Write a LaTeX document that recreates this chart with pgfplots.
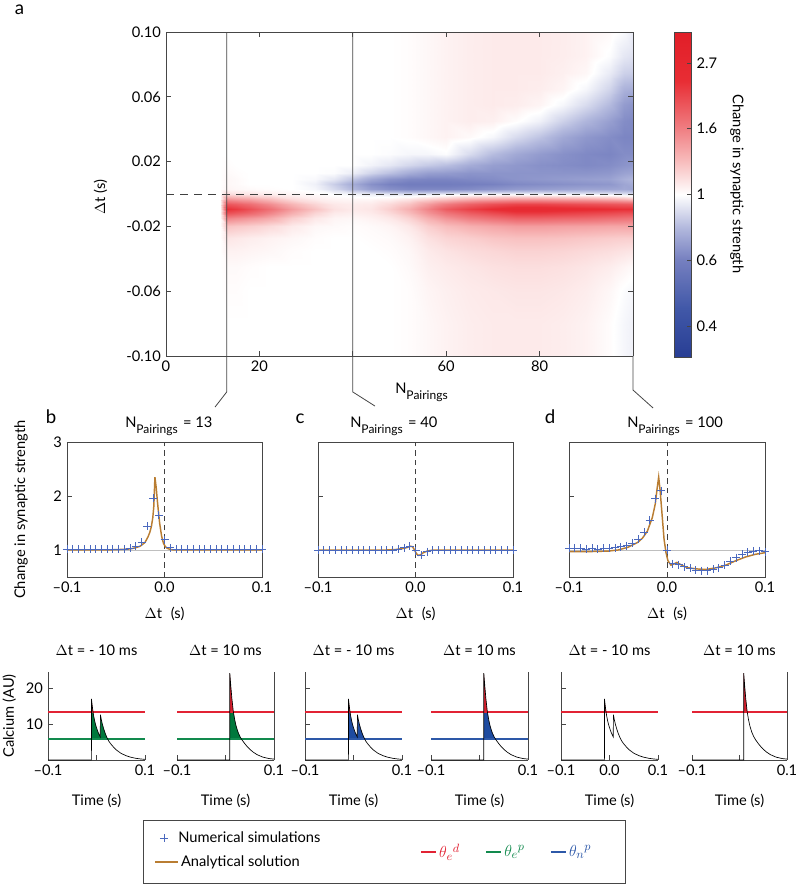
\documentclass[border=0pt]{standalone}
\usepackage{pgfplots}
\pgfplotsset{compat=1.18}
\usepackage{pgfplotstable}
\usepackage{fontspec}
\setmainfont{Lato}
\def\PX{0.75pt}
\definecolor{cred}{RGB}{226,35,52}
\definecolor{cgreen}{RGB}{18,138,78}
\definecolor{cblue}{RGB}{45,88,168}
\definecolor{fred}{RGB}{215,30,45}
\definecolor{fgreen}{RGB}{0,120,60}
\definecolor{fblue}{RGB}{30,75,160}
\definecolor{cbrown}{RGB}{185,125,50}
\definecolor{cplus}{RGB}{75,105,190}
\definecolor{axgray}{RGB}{70,70,70}

\pgfplotsset{
  every axis/.append style={axis line style={axgray,line width=0.5pt}, tick style={axgray,line width=0.5pt}, major tick length=3.5pt, tick align=inside},
  stdp/.style={anchor=south west, width=195*\PX, height=135*\PX, scale only axis,
    xmin=-0.1, xmax=0.1, ymin=0.5, ymax=3, xtick={-0.1,0,0.1}, xticklabels={–0.1,0.0,0.1},
    ytick={1,2,3}, xtick pos=bottom, ytick pos=left,
    xlabel={$\Delta$t\hspace{0.6em}(s)}, xlabel style={at={(axis description cs:0.5,-0.304)}, anchor=base}},
  caax/.style={anchor=south west, width=97*\PX, height=88*\PX, scale only axis,
    every non boxed x axis/.append style={x axis line style={-}, xtick align=inside},
    every non boxed y axis/.append style={y axis line style={-}, ytick align=inside},
    xmin=-0.1, xmax=0.1, ymin=0, ymax=24.5, axis x line=bottom,
    xtick={-0.1,0,0.1}, xticklabels={–0.1,,0.1}, xlabel={Time (s)},
    xlabel style={at={(axis description cs:0.5,-0.52)}, anchor=base},
    clip=false},
  caleft/.style={axis y line=left, ytick={10,20}, yticklabels={,},
    x axis line style={-}, y axis line style={-}, tick align=inside},
  caright/.style={axis y line=right, ytick=\empty,
    x axis line style={-}, y axis line style={-}, tick align=inside},
}

\pgfplotstableread{
t c
-0.1 0
-0.0105 0
-0.0104 17
-0.008 14.2
-0.006 12.4
-0.004 11.0
-0.002 9.9
0 9.0
0.002 8.2
0.004 7.5
0.006 6.9
0.0078 6.4
0.008 12.6
0.010 11.2
0.012 10.0
0.015 8.6
0.018 7.4
0.022 6.1
0.026 5.1
0.030 4.4
0.035 3.6
0.040 2.9
0.045 2.4
0.050 1.9
0.060 1.25
0.070 0.8
0.080 0.5
0.090 0.3
0.100 0.18
}\traceA

\pgfplotstableread{
t c
-0.1 0
0.0088 0
0.0089 24.2
0.011 20.5
0.013 17.3
0.016 13.6
0.019 11.2
0.022 9.4
0.026 7.7
0.030 6.5
0.034 5.6
0.040 4.5
0.045 3.7
0.050 3.0
0.057 2.2
0.065 1.5
0.077 0.8
0.090 0.4
0.100 0.25
}\traceB

\begin{document}
\fontsize{11}{13}\selectfont
\begin{tikzpicture}
\useasboundingbox (0,0) rectangle (797*\PX,-885*\PX);

%================ heat map ================
\begin{axis}[
  at={(166*\PX,-356*\PX)}, anchor=south west,
  width=467*\PX, height=324*\PX, scale only axis,
  view={0}{90},
  xmin=0, xmax=100, ymin=-0.1, ymax=0.1,
  xtick={0,20,40,60,80}, xticklabels={0,20,,60,80},
  ytick={-0.1,-0.06,-0.02,0.02,0.06,0.1},
  yticklabels={-0.10,-0.06,-0.02,0.02,0.06,0.10},
  tick pos=both,
  ylabel={$\Delta$t (s)},
  ylabel style={at={(axis description cs:-0.14,0.49)}, anchor=center},
  clip=false,
  colormap={bwr}{rgb255(0cm)=(40,62,148) rgb255(1.5cm)=(65,88,168) rgb255(3cm)=(118,128,192) rgb255(4cm)=(180,186,222) rgb255(5cm)=(255,255,255) rgb255(6cm)=(248,190,190) rgb255(7cm)=(240,128,132) rgb255(8.5cm)=(232,45,52) rgb255(10cm)=(225,30,40)},
  point meta min=-1.21, point meta max=1.21,
  colorbar,
  colorbar style={at={(parent axis.north east)}, anchor=north west, xshift=30*\PX,
    width=17*\PX, height=325*\PX, scale only axis,
    ytick={-0.98,-0.49,0,0.49,0.98}, yticklabels={0.4,0.6,1,1.6,2.7},
    ytick pos=right, yticklabel pos=right, tick align=inside, major tick length=3pt},
]
\addplot3[surf, shader=interp, mesh/ordering=y varies, mesh/rows=26, mesh/cols=24,
  point meta={ln(\thisrow{v})}] table[x=x, y=y, z expr=0] {
x y v
0 -0.1 1
0 -0.08 1
0 -0.06 1
0 -0.045 1
0 -0.035 1
0 -0.027 1
0 -0.02 1
0 -0.015 1
0 -0.012 1
0 -0.009 1
0 -0.006 1
0 -0.003 1
0 0 1
0 0.003 1
0 0.006 1
0 0.009 1
0 0.013 1
0 0.018 1
0 0.025 1
0 0.035 1
0 0.045 1
0 0.055 1
0 0.065 1
0 0.075 1
0 0.085 1
0 0.1 1
11.5 -0.1 1
11.5 -0.08 1
11.5 -0.06 1
11.5 -0.045 1
11.5 -0.035 1
11.5 -0.027 1
11.5 -0.02 1
11.5 -0.015 1
11.5 -0.012 1
11.5 -0.009 1
11.5 -0.006 1
11.5 -0.003 1
11.5 0 1
11.5 0.003 1
11.5 0.006 1
11.5 0.009 1
11.5 0.013 1
11.5 0.018 1
11.5 0.025 1
11.5 0.035 1
11.5 0.045 1
11.5 0.055 1
11.5 0.065 1
11.5 0.075 1
11.5 0.085 1
11.5 0.1 1
13 -0.1 1
13 -0.08 1
13 -0.06 1.01
13 -0.045 1.02
13 -0.035 1.05
13 -0.027 1.1
13 -0.02 1.25
13 -0.015 1.6
13 -0.012 2.0
13 -0.009 2.3
13 -0.006 1.95
13 -0.003 1.5
13 0 1.15
13 0.003 1.04
13 0.006 1.03
13 0.009 1.03
13 0.013 1.02
13 0.018 1.01
13 0.025 1
13 0.035 1
13 0.045 1
13 0.055 1
13 0.065 1
13 0.075 1
13 0.085 1
13 0.1 1
15 -0.1 1
15 -0.08 1
15 -0.06 1.01
15 -0.045 1.02
15 -0.035 1.05
15 -0.027 1.09
15 -0.02 1.23
15 -0.015 1.55
15 -0.012 1.92
15 -0.009 2.2
15 -0.006 1.88
15 -0.003 1.45
15 0 1.12
15 0.003 1.03
15 0.006 1.02
15 0.009 1.02
15 0.013 1.01
15 0.018 1
15 0.025 1
15 0.035 1
15 0.045 1
15 0.055 1
15 0.065 1
15 0.075 1
15 0.085 1
15 0.1 1
18 -0.1 1
18 -0.08 1
18 -0.06 1
18 -0.045 1.01
18 -0.035 1.04
18 -0.027 1.07
18 -0.02 1.2
18 -0.015 1.48
18 -0.012 1.8
18 -0.009 2.0
18 -0.006 1.75
18 -0.003 1.4
18 0 1.1
18 0.003 1.02
18 0.006 1
18 0.009 1
18 0.013 1
18 0.018 1
18 0.025 1
18 0.035 1
18 0.045 1
18 0.055 1
18 0.065 1
18 0.075 1
18 0.085 1
18 0.1 1
22 -0.1 1
22 -0.08 1
22 -0.06 1
22 -0.045 1
22 -0.035 1.03
22 -0.027 1.05
22 -0.02 1.15
22 -0.015 1.38
22 -0.012 1.6
22 -0.009 1.75
22 -0.006 1.55
22 -0.003 1.28
22 0 1.07
22 0.003 1.01
22 0.006 1
22 0.009 1
22 0.013 1
22 0.018 1
22 0.025 1
22 0.035 1
22 0.045 1
22 0.055 1
22 0.065 1
22 0.075 1
22 0.085 1
22 0.1 1
27 -0.1 1
27 -0.08 1
27 -0.06 1
27 -0.045 1
27 -0.035 1.01
27 -0.027 1.03
27 -0.02 1.08
27 -0.015 1.2
27 -0.012 1.35
27 -0.009 1.45
27 -0.006 1.32
27 -0.003 1.14
27 0 1.04
27 0.003 1
27 0.006 1
27 0.009 1
27 0.013 1
27 0.018 1
27 0.025 1
27 0.035 1
27 0.045 1
27 0.055 1
27 0.065 1
27 0.075 1
27 0.085 1
27 0.1 1
32 -0.1 1
32 -0.08 1
32 -0.06 1
32 -0.045 1
32 -0.035 1
32 -0.027 1.01
32 -0.02 1.03
32 -0.015 1.09
32 -0.012 1.17
32 -0.009 1.25
32 -0.006 1.17
32 -0.003 1.07
32 0 1.02
32 0.003 0.97
32 0.006 0.95
32 0.009 0.98
32 0.013 1
32 0.018 1
32 0.025 1
32 0.035 1
32 0.045 1
32 0.055 1
32 0.065 1
32 0.075 1
32 0.085 1
32 0.1 1
36 -0.1 1
36 -0.08 1
36 -0.06 1
36 -0.045 1
36 -0.035 1
36 -0.027 1
36 -0.02 1.02
36 -0.015 1.04
36 -0.012 1.08
36 -0.009 1.12
36 -0.006 1.09
36 -0.003 1.04
36 0 0.99
36 0.003 0.88
36 0.006 0.84
36 0.009 0.92
36 0.013 0.99
36 0.018 1
36 0.025 1
36 0.035 1
36 0.045 1
36 0.055 1
36 0.065 1
36 0.075 1
36 0.085 1
36 0.1 1
40 -0.1 1
40 -0.08 1
40 -0.06 1
40 -0.045 1
40 -0.035 1
40 -0.027 1
40 -0.02 1.01
40 -0.015 1.03
40 -0.012 1.06
40 -0.009 1.08
40 -0.006 1.07
40 -0.003 1.03
40 0 0.96
40 0.003 0.78
40 0.006 0.74
40 0.009 0.82
40 0.013 0.94
40 0.018 1
40 0.025 1
40 0.035 1
40 0.045 1
40 0.055 1
40 0.065 1
40 0.075 1
40 0.085 1
40 0.1 1
44 -0.1 1
44 -0.08 1
44 -0.06 1
44 -0.045 1
44 -0.035 1
44 -0.027 1.01
44 -0.02 1.02
44 -0.015 1.05
44 -0.012 1.08
44 -0.009 1.1
44 -0.006 1.08
44 -0.003 1.03
44 0 0.94
44 0.003 0.7
44 0.006 0.66
44 0.009 0.73
44 0.013 0.86
44 0.018 0.96
44 0.025 1
44 0.035 1
44 0.045 1
44 0.055 1
44 0.065 1
44 0.075 1
44 0.085 1
44 0.1 1
48 -0.1 1
48 -0.08 1
48 -0.06 1
48 -0.045 1
48 -0.035 1.01
48 -0.027 1.02
48 -0.02 1.04
48 -0.015 1.09
48 -0.012 1.15
48 -0.009 1.2
48 -0.006 1.15
48 -0.003 1.05
48 0 0.92
48 0.003 0.66
48 0.006 0.62
48 0.009 0.67
48 0.013 0.8
48 0.018 0.92
48 0.025 0.99
48 0.035 1
48 0.045 1
48 0.055 1
48 0.065 1
48 0.075 1
48 0.085 1
48 0.1 1
52 -0.1 1.01
52 -0.08 1.01
52 -0.06 1.01
52 -0.045 1.02
52 -0.035 1.03
52 -0.027 1.05
52 -0.02 1.09
52 -0.015 1.18
52 -0.012 1.28
52 -0.009 1.35
52 -0.006 1.25
52 -0.003 1.1
52 0 0.9
52 0.003 0.64
52 0.006 0.6
52 0.009 0.64
52 0.013 0.74
52 0.018 0.87
52 0.025 0.97
52 0.035 1.01
52 0.045 1.01
52 0.055 1.01
52 0.065 1.01
52 0.075 1.01
52 0.085 1.01
52 0.1 1.01
56 -0.1 1.03
56 -0.08 1.03
56 -0.06 1.04
56 -0.045 1.06
56 -0.035 1.08
56 -0.027 1.12
56 -0.02 1.2
56 -0.015 1.35
56 -0.012 1.5
56 -0.009 1.6
56 -0.006 1.45
56 -0.003 1.18
56 0 0.92
56 0.003 0.64
56 0.006 0.6
56 0.009 0.63
56 0.013 0.7
56 0.018 0.83
56 0.025 0.97
56 0.035 1.03
56 0.045 1.03
56 0.055 1.03
56 0.065 1.03
56 0.075 1.03
56 0.085 1.03
56 0.1 1.03
60 -0.1 1.05
60 -0.08 1.05
60 -0.06 1.06
60 -0.045 1.08
60 -0.035 1.11
60 -0.027 1.17
60 -0.02 1.28
60 -0.015 1.5
60 -0.012 1.7
60 -0.009 1.9
60 -0.006 1.65
60 -0.003 1.25
60 0 0.94
60 0.003 0.64
60 0.006 0.6
60 0.009 0.63
60 0.013 0.69
60 0.018 0.8
60 0.025 0.99
60 0.035 1.05
60 0.045 1.05
60 0.055 1.05
60 0.065 1.05
60 0.075 1.05
60 0.085 1.05
60 0.1 1.05
65 -0.1 1.07
65 -0.08 1.07
65 -0.06 1.08
65 -0.045 1.1
65 -0.035 1.14
65 -0.027 1.2
65 -0.02 1.35
65 -0.015 1.65
65 -0.012 1.9
65 -0.009 2.15
65 -0.006 1.85
65 -0.003 1.35
65 0 0.96
65 0.003 0.65
65 0.006 0.61
65 0.009 0.64
65 0.013 0.67
65 0.018 0.74
65 0.025 0.88
65 0.035 1.02
65 0.045 1.07
65 0.055 1.07
65 0.065 1.07
65 0.075 1.07
65 0.085 1.07
65 0.1 1.07
70 -0.1 1.08
70 -0.08 1.08
70 -0.06 1.09
70 -0.045 1.12
70 -0.035 1.16
70 -0.027 1.24
70 -0.02 1.4
70 -0.015 1.75
70 -0.012 2.05
70 -0.009 2.35
70 -0.006 2.0
70 -0.003 1.4
70 0 0.97
70 0.003 0.67
70 0.006 0.62
70 0.009 0.65
70 0.013 0.67
70 0.018 0.7
70 0.025 0.79
70 0.035 0.97
70 0.045 1.06
70 0.055 1.08
70 0.065 1.08
70 0.075 1.08
70 0.085 1.08
70 0.1 1.08
75 -0.1 1.08
75 -0.08 1.08
75 -0.06 1.1
75 -0.045 1.13
75 -0.035 1.18
75 -0.027 1.26
75 -0.02 1.45
75 -0.015 1.85
75 -0.012 2.2
75 -0.009 2.5
75 -0.006 2.1
75 -0.003 1.45
75 0 0.97
75 0.003 0.69
75 0.006 0.64
75 0.009 0.67
75 0.013 0.67
75 0.018 0.68
75 0.025 0.73
75 0.035 0.88
75 0.045 1.01
75 0.055 1.07
75 0.065 1.08
75 0.075 1.08
75 0.085 1.08
75 0.1 1.08
80 -0.1 1.08
80 -0.08 1.08
80 -0.06 1.1
80 -0.045 1.13
80 -0.035 1.18
80 -0.027 1.26
80 -0.02 1.45
80 -0.015 1.85
80 -0.012 2.2
80 -0.009 2.5
80 -0.006 2.1
80 -0.003 1.45
80 0 0.96
80 0.003 0.7
80 0.006 0.65
80 0.009 0.68
80 0.013 0.67
80 0.018 0.66
80 0.025 0.69
80 0.035 0.81
80 0.045 0.95
80 0.055 1.04
80 0.065 1.07
80 0.075 1.08
80 0.085 1.08
80 0.1 1.08
85 -0.1 1.07
85 -0.08 1.07
85 -0.06 1.09
85 -0.045 1.12
85 -0.035 1.17
85 -0.027 1.25
85 -0.02 1.43
85 -0.015 1.82
85 -0.012 2.15
85 -0.009 2.45
85 -0.006 2.05
85 -0.003 1.42
85 0 0.95
85 0.003 0.71
85 0.006 0.66
85 0.009 0.69
85 0.013 0.67
85 0.018 0.65
85 0.025 0.66
85 0.035 0.73
85 0.045 0.85
85 0.055 0.97
85 0.065 1.04
85 0.075 1.06
85 0.085 1.07
85 0.1 1.07
90 -0.1 1.05
90 -0.08 1.05
90 -0.06 1.07
90 -0.045 1.1
90 -0.035 1.15
90 -0.027 1.23
90 -0.02 1.42
90 -0.015 1.8
90 -0.012 2.1
90 -0.009 2.4
90 -0.006 2.0
90 -0.003 1.4
90 0 0.94
90 0.003 0.72
90 0.006 0.67
90 0.009 0.7
90 0.013 0.67
90 0.018 0.64
90 0.025 0.64
90 0.035 0.68
90 0.045 0.77
90 0.055 0.88
90 0.065 0.97
90 0.075 1.03
90 0.085 1.05
90 0.1 1.05
95 -0.1 1.01
95 -0.08 1.01
95 -0.06 1.03
95 -0.045 1.07
95 -0.035 1.13
95 -0.027 1.21
95 -0.02 1.4
95 -0.015 1.75
95 -0.012 2.05
95 -0.009 2.35
95 -0.006 1.95
95 -0.003 1.35
95 0 0.93
95 0.003 0.72
95 0.006 0.68
95 0.009 0.71
95 0.013 0.68
95 0.018 0.65
95 0.025 0.63
95 0.035 0.65
95 0.045 0.7
95 0.055 0.78
95 0.065 0.86
95 0.075 0.93
95 0.085 0.99
95 0.1 1.02
98 -0.1 0.97
98 -0.08 0.97
98 -0.06 0.99
98 -0.045 1.04
98 -0.035 1.11
98 -0.027 1.2
98 -0.02 1.4
98 -0.015 1.72
98 -0.012 2.0
98 -0.009 2.3
98 -0.006 1.92
98 -0.003 1.3
98 0 0.91
98 0.003 0.73
98 0.006 0.72
98 0.009 0.75
98 0.013 0.71
98 0.018 0.67
98 0.025 0.65
98 0.035 0.63
98 0.045 0.65
98 0.055 0.69
98 0.065 0.76
98 0.075 0.85
98 0.085 0.92
98 0.1 0.98
100 -0.1 0.95
100 -0.08 0.95
100 -0.06 0.97
100 -0.045 1.02
100 -0.035 1.1
100 -0.027 1.2
100 -0.02 1.4
100 -0.015 1.7
100 -0.012 2.0
100 -0.009 2.3
100 -0.006 1.9
100 -0.003 1.25
100 0 0.9
100 0.003 0.72
100 0.006 0.74
100 0.009 0.77
100 0.013 0.72
100 0.018 0.68
100 0.025 0.65
100 0.035 0.63
100 0.045 0.64
100 0.055 0.67
100 0.065 0.75
100 0.075 0.84
100 0.085 0.9
100 0.1 0.93
};
\addplot3[black!75, line width=0.6pt, dash pattern=on 6pt off 4.5pt] coordinates {(0,0,0) (100,0,0)};
\draw[axgray, line width=0.6pt] (axis cs:13,0.1,0) -- (axis cs:13,-0.1222,0) -- (axis cs:10.5,-0.1315,0);
\draw[axgray, line width=0.6pt] (axis cs:40,0.1,0) -- (axis cs:40,-0.1222,0) -- (axis cs:44.75,-0.1309,0);
\draw[axgray, line width=0.6pt] (axis cs:100,-0.1,0) -- (axis cs:100,-0.121,0) -- (axis cs:104.3,-0.1321,0);
\end{axis}

%================ panel b ================
\begin{axis}[stdp, at={(67*\PX,-577*\PX)}, yticklabels={1,2,3},
  ylabel={Change in synaptic strength}, ylabel style={at={(axis description cs:-0.236,0.5)}, anchor=center}]
\addplot[black!25, line width=0.5pt, forget plot] coordinates {(-0.1,1) (0.1,1)};
\addplot[black!75, line width=0.6pt, dash pattern=on 4pt off 3pt, forget plot] coordinates {(0,0.5) (0,3)};
\addplot[cplus, only marks, mark=+, mark size=3pt, line width=0.6pt] table {
x y
-0.1 1.01
-0.09412 1.01
-0.08824 1.01
-0.08235 1.01
-0.07647 1.01
-0.07059 1.01
-0.06471 1.01
-0.05882 1.01
-0.05294 1.01
-0.04706 1.01
-0.04118 1.02
-0.03529 1.03
-0.02941 1.07
-0.02353 1.15
-0.01765 1.44
-0.01176 1.96
-0.00588 1.65
0 1.19
0.00588 1.04
0.01176 1.01
0.01765 1.01
0.02353 1.01
0.02941 1.01
0.03529 1.01
0.04118 1.01
0.04706 1.01
0.05294 1.01
0.05882 1.01
0.06471 1.01
0.07059 1.01
0.07647 1.01
0.08235 1.01
0.08824 1.01
0.09412 1.01
0.1 1.01
};
\addplot[cbrown, line width=1.1pt] table {
x y
-0.1 1
-0.06 1
-0.045 1.01
-0.035 1.02
-0.03 1.04
-0.025 1.07
-0.02 1.14
-0.017 1.24
-0.015 1.33
-0.0134 1.44
-0.012 1.6
-0.011 1.8
-0.0098 2.35
-0.0085 2.15
-0.007 1.85
-0.005 1.5
-0.003 1.26
-0.001 1.12
0.001 1.06
0.003 1.03
0.006 1.01
0.01 1
0.1 1
};
\end{axis}

%================ panel c ================
\begin{axis}[stdp, at={(318*\PX,-577*\PX)}, yticklabels={,,},
  legend style={at={(-0.8615,-2.111)}, anchor=west, draw=none, fill=none},
  legend image code/.code={\draw[#1] (0pt,0pt) -- (17pt,0pt);}]
\addplot[black!75, line width=0.6pt, dash pattern=on 4pt off 3pt, forget plot] coordinates {(0,0.5) (0,3)};
\addplot[cplus, only marks, mark=+, mark size=3pt, line width=0.6pt, forget plot] table {
x y
-0.1 1
-0.09412 1
-0.08824 1
-0.08235 1
-0.07647 1
-0.07059 1
-0.06471 1
-0.05882 1
-0.05294 1
-0.04706 1
-0.04118 1
-0.03529 1
-0.02941 1
-0.02353 1
-0.01765 1.02
-0.01176 1.04
-0.00588 1.07
0 0.99
0.00588 0.9
0.01176 0.97
0.01765 1
0.02353 1
0.02941 1
0.03529 1
0.04118 1
0.04706 1
0.05294 1
0.05882 1
0.06471 1
0.07059 1
0.07647 1
0.08235 1
0.08824 1
0.09412 1
0.1 1
};
\addplot[cbrown, line width=1.1pt, forget plot] table {
x y
-0.1 1
-0.03 1
-0.02 1.01
-0.012 1.03
-0.008 1.05
-0.005 1.07
-0.003 1.06
-0.001 1.0
0.001 0.93
0.003 0.9
0.005 0.91
0.008 0.95
0.012 0.98
0.018 1
0.1 1
};
\addlegendimage{cbrown, line width=1.1pt}
\addlegendentry{Analytical solution}
\end{axis}

%================ panel d ================
\begin{axis}[stdp, at={(569*\PX,-577*\PX)}, width=196*\PX, yticklabels={,,},
  legend style={at={(-2.148,-1.844)}, anchor=north west, draw=none, fill=none},
  legend image code/.code={\draw[#1] plot coordinates {(8.5pt,0pt)}; \path (0pt,0pt) (17pt,0pt);}]
\addplot[black!25, line width=0.5pt, forget plot] coordinates {(-0.1,1) (0.1,1)};
\addplot[black!75, line width=0.6pt, dash pattern=on 4pt off 3pt, forget plot] coordinates {(0,0.5) (0,3)};
\addplot[cplus, only marks, mark=+, mark size=3pt, line width=0.6pt] table {
x y
-0.1 1.03
-0.09412 1.03
-0.08824 1.03
-0.08235 1.02
-0.07647 1.03
-0.07059 1.02
-0.06471 1.03
-0.05882 1.03
-0.05294 1.04
-0.04706 1.06
-0.04118 1.08
-0.03529 1.13
-0.02941 1.2
-0.02353 1.33
-0.01765 1.55
-0.01176 1.95
-0.00588 2.1
0 1.0
0.00588 0.75
0.01176 0.73
0.01765 0.69
0.02353 0.66
0.02941 0.63
0.03529 0.62
0.04118 0.62
0.04706 0.64
0.05294 0.67
0.05882 0.72
0.06471 0.79
0.07059 0.86
0.07647 0.92
0.08235 0.96
0.08824 0.98
0.09412 0.99
0.1 0.97
};
\addlegendentry{Numerical simulations}
\addplot[cbrown, line width=1.1pt, forget plot] table {
x y
-0.1 0.97
-0.08 0.97
-0.06 0.98
-0.05 1.0
-0.04 1.05
-0.03 1.14
-0.025 1.22
-0.02 1.35
-0.015 1.6
-0.012 1.85
-0.01 2.15
-0.0085 2.35
-0.007 2.1
-0.005 1.65
-0.003 1.2
-0.001 0.95
0.001 0.8
0.004 0.72
0.007 0.74
0.01 0.77
0.013 0.74
0.017 0.7
0.022 0.67
0.03 0.65
0.04 0.64
0.05 0.67
0.06 0.72
0.07 0.8
0.08 0.87
0.09 0.92
0.1 0.95
};
\end{axis}

%================ calcium panels ================
% 1
\begin{axis}[caax, caleft, at={(48*\PX,-760*\PX)}, yticklabels={10,20},
  ylabel={Calcium (AU)}, ylabel style={at={(axis description cs:-0.40,0.5)}, anchor=center}]
\addplot[fill=fgreen, draw=none] coordinates {(-0.0104,5.8) (-0.0104,13.4) (-0.0071,13.4) (-0.006,12.4) (-0.004,11.0) (-0.002,9.9) (0,9.0) (0.002,8.2) (0.004,7.5) (0.006,6.9) (0.0078,6.4) (0.008,12.6) (0.01,11.2) (0.012,10.0) (0.015,8.6) (0.018,7.4) (0.022,6.1) (0.0232,5.8)};
\addplot[fill=fred, draw=none] coordinates {(-0.0104,13.4) (-0.0104,17) (-0.008,14.2) (-0.0071,13.4)};
\addplot[cred, line width=1.2pt] coordinates {(-0.1,13.4) (0.1,13.4)};
\addplot[cgreen, line width=1.2pt] coordinates {(-0.1,5.8) (0.1,5.8)};
\addplot[black, line width=0.5pt] table[x=t,y=c] {\traceA};
\end{axis}
% 2
\begin{axis}[caax, caright, at={(177*\PX,-760*\PX)}]
\addplot[fill=fgreen, draw=none] coordinates {(0.0089,5.8) (0.0089,13.4) (0.0163,13.4) (0.019,11.2) (0.022,9.4) (0.026,7.7) (0.03,6.5) (0.0331,5.8)};
\addplot[fill=fred, draw=none] coordinates {(0.0089,13.4) (0.0089,24.2) (0.011,20.5) (0.013,17.3) (0.016,13.6) (0.0163,13.4)};
\addplot[cred, line width=1.2pt] coordinates {(-0.1,13.4) (0.1,13.4)};
\addplot[cgreen, line width=1.2pt] coordinates {(-0.1,5.8) (0.1,5.8)};
\addplot[black, line width=0.5pt] table[x=t,y=c] {\traceB};
\end{axis}
% 3
\begin{axis}[caax, caleft, at={(305*\PX,-760*\PX)}]
\addplot[fill=fblue, draw=none] coordinates {(-0.0104,5.8) (-0.0104,13.4) (-0.0071,13.4) (-0.006,12.4) (-0.004,11.0) (-0.002,9.9) (0,9.0) (0.002,8.2) (0.004,7.5) (0.006,6.9) (0.0078,6.4) (0.008,12.6) (0.01,11.2) (0.012,10.0) (0.015,8.6) (0.018,7.4) (0.022,6.1) (0.0232,5.8)};
\addplot[fill=fred, draw=none] coordinates {(-0.0104,13.4) (-0.0104,17) (-0.008,14.2) (-0.0071,13.4)};
\addplot[cred, line width=1.2pt] coordinates {(-0.1,13.4) (0.1,13.4)};
\addplot[cblue, line width=1.2pt] coordinates {(-0.1,5.8) (0.1,5.8)};
\addplot[black, line width=0.5pt] table[x=t,y=c] {\traceA};
\end{axis}
% 4
\begin{axis}[caax, caright, at={(431*\PX,-760*\PX)}]
\addplot[fill=fblue, draw=none] coordinates {(0.0089,5.8) (0.0089,13.4) (0.0163,13.4) (0.019,11.2) (0.022,9.4) (0.026,7.7) (0.03,6.5) (0.0331,5.8)};
\addplot[fill=fred, draw=none] coordinates {(0.0089,13.4) (0.0089,24.2) (0.011,20.5) (0.013,17.3) (0.016,13.6) (0.0163,13.4)};
\addplot[cred, line width=1.2pt] coordinates {(-0.1,13.4) (0.1,13.4)};
\addplot[cblue, line width=1.2pt] coordinates {(-0.1,5.8) (0.1,5.8)};
\addplot[black, line width=0.5pt] table[x=t,y=c] {\traceB};
\end{axis}
% 5
\begin{axis}[caax, caleft, at={(561*\PX,-760*\PX)}, xticklabels={–0.1,0.0,0.1}]
\addplot[fill=fred, draw=none] coordinates {(-0.0104,13.4) (-0.0104,17) (-0.008,14.2) (-0.0071,13.4)};
\addplot[cred, line width=1.2pt] coordinates {(-0.1,13.4) (0.1,13.4)};
\addplot[black, line width=0.5pt] table[x=t,y=c] {\traceA};
\end{axis}
% 6
\begin{axis}[caax, caright, at={(692*\PX,-760*\PX)}, width=95*\PX,
  legend columns=3,
  legend style={at={(-2.905,-1.045)}, anchor=west, draw=none, fill=none,
    font=\fontsize{12.5}{14}\selectfont,
    /tikz/every even column/.append style={column sep=17pt}},
  legend image code/.code={\draw[#1] (0pt,0pt) -- (11pt,0pt);}]
\addplot[fill=fred, draw=none, forget plot] coordinates {(0.0089,13.4) (0.0089,24.2) (0.011,20.5) (0.013,17.3) (0.016,13.6) (0.0163,13.4)};
\addplot[cred, line width=1.2pt, forget plot] coordinates {(-0.1,13.4) (0.1,13.4)};
\addplot[black, line width=0.5pt, forget plot] table[x=t,y=c] {\traceB};
\addlegendimage{cred, line width=1.2pt}
\addlegendentry{\textcolor{cred}{$\theta_{e}{}^{d}$}}
\addlegendimage{cgreen, line width=1.2pt}
\addlegendentry{\textcolor{cgreen}{$\theta_{e}{}^{p}$}}
\addlegendimage{cblue, line width=1.2pt}
\addlegendentry{\textcolor{cblue}{$\theta_{n}{}^{p}$}}
\end{axis}

%================ texts ================
\node[anchor=base, font=\fontsize{14}{16}\selectfont] at (19.5*\PX,-14*\PX) {a};
\node[anchor=base, font=\fontsize{14}{16}\selectfont] at (51*\PX,-423*\PX) {b};
\node[anchor=base, font=\fontsize{14}{16}\selectfont] at (300*\PX,-423*\PX) {c};
\node[anchor=base, font=\fontsize{14}{16}\selectfont] at (550*\PX,-423*\PX) {d};
\node[anchor=base west, inner sep=0pt] at (395*\PX,-393*\PX) {N\raisebox{-4.5pt}{\fontsize{9}{9}\selectfont Pairings}};
\node[anchor=base west, inner sep=0pt] at (125*\PX,-427*\PX) {N\raisebox{-4.5pt}{\fontsize{9}{9}\selectfont Pairings}\hspace{4pt}= 13};
\node[anchor=base west, inner sep=0pt] at (350*\PX,-427*\PX) {N\raisebox{-4.5pt}{\fontsize{9}{9}\selectfont Pairings}\hspace{4pt}= 40};
\node[anchor=base west, inner sep=0pt] at (627*\PX,-427*\PX) {N\raisebox{-4.5pt}{\fontsize{9}{9}\selectfont Pairings}\hspace{4pt}= 100};
\node[rotate=-90, anchor=center] at (737*\PX,-184*\PX) {Change in synaptic strength};
\node[anchor=base] at (96.5*\PX,-655*\PX) {$\Delta$t = - 10 ms};
\node[anchor=base] at (225.5*\PX,-655*\PX) {$\Delta$t = 10 ms};
\node[anchor=base] at (353.5*\PX,-655*\PX) {$\Delta$t = - 10 ms};
\node[anchor=base] at (479.5*\PX,-655*\PX) {$\Delta$t = 10 ms};
\node[anchor=base] at (609.5*\PX,-655*\PX) {$\Delta$t = - 10 ms};
\node[anchor=base] at (739.5*\PX,-655*\PX) {$\Delta$t = 10 ms};
\draw[axgray, line width=0.6pt] (143*\PX,-820*\PX) rectangle (625*\PX,-883*\PX);
\end{tikzpicture}
\end{document}
